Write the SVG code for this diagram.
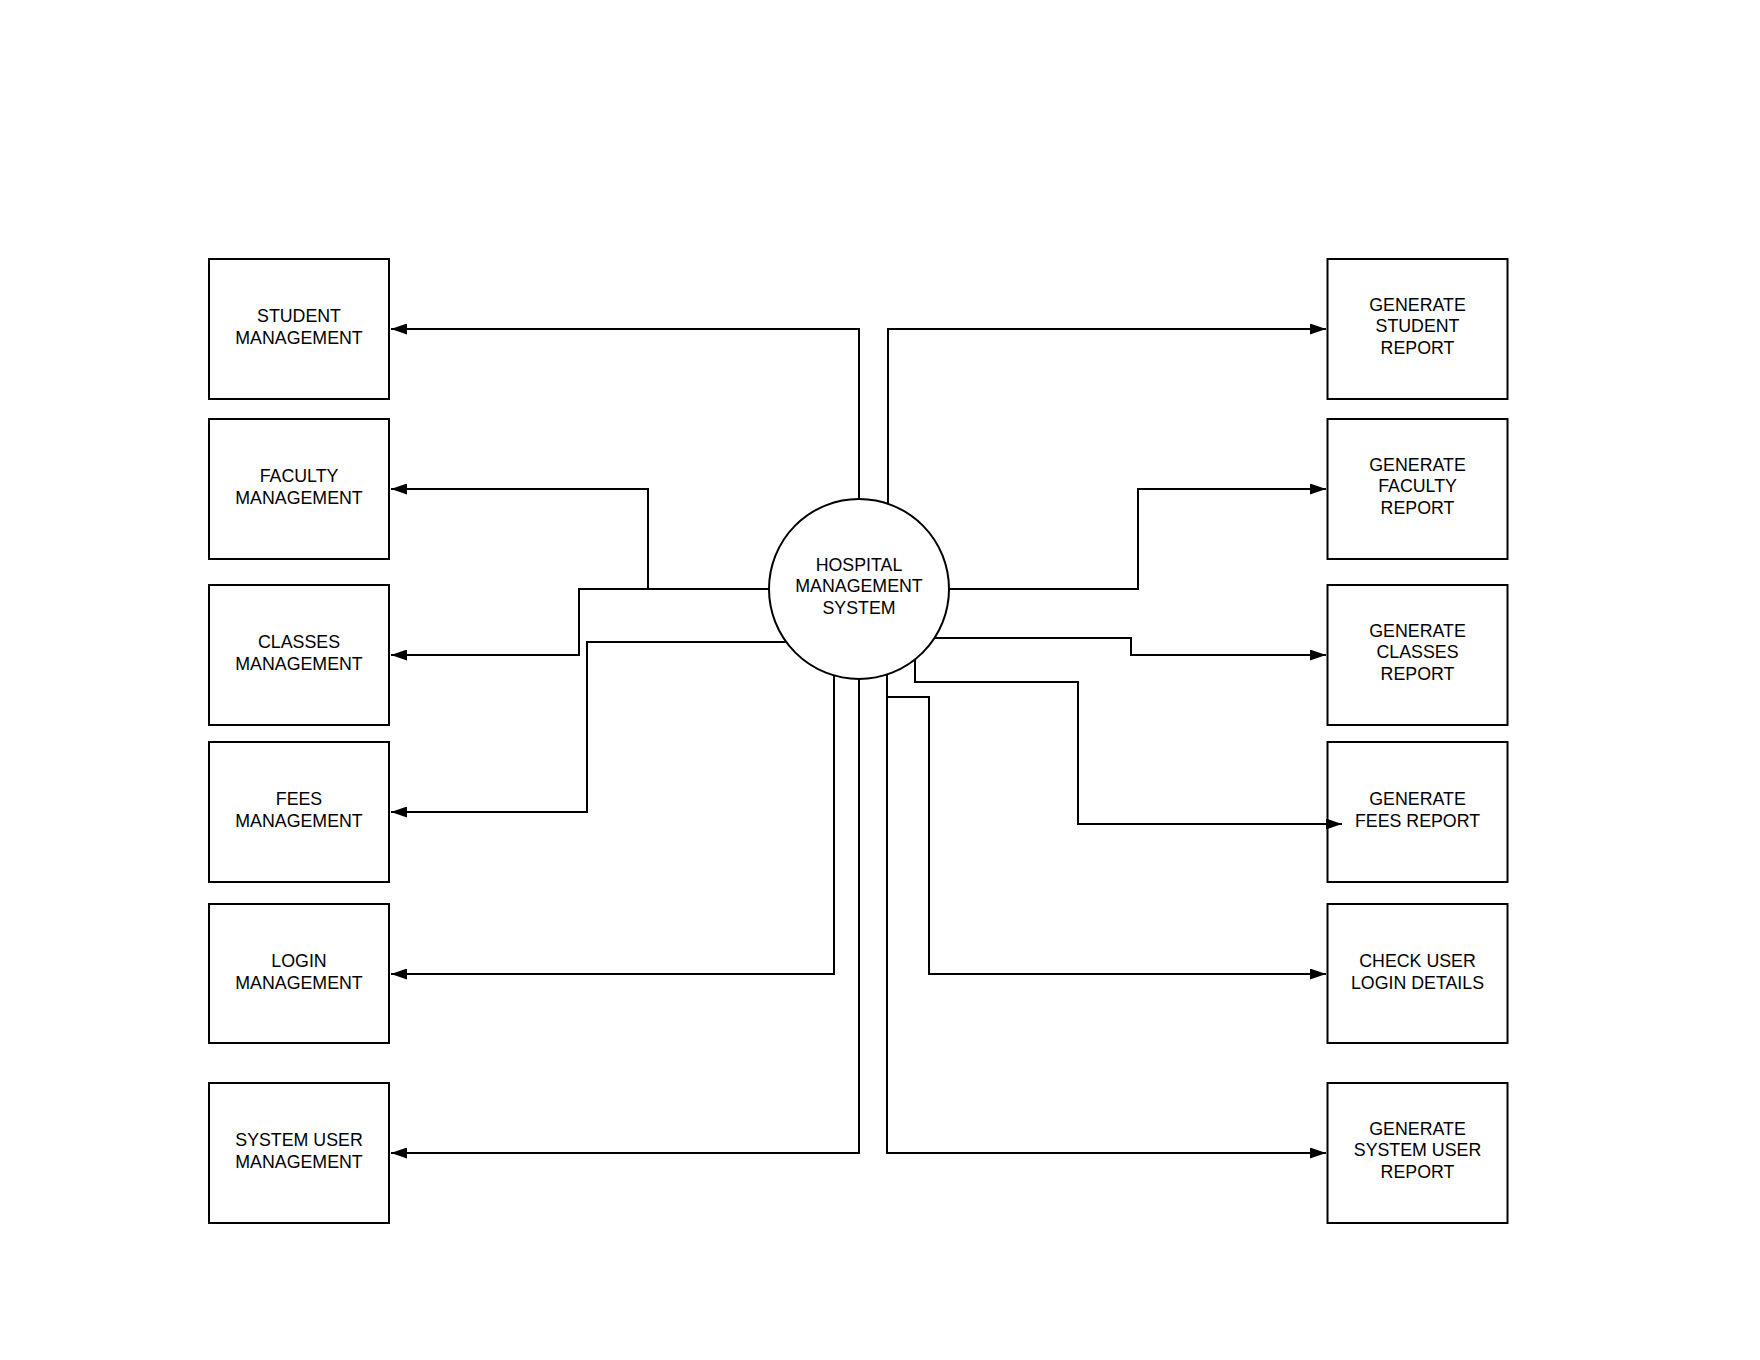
<svg xmlns="http://www.w3.org/2000/svg" width="1760" height="1360" viewBox="0 0 1760 1360">
<style>
.box{fill:#fff;stroke:#000;stroke-width:2}
.lbl{font-family:"Liberation Sans",Arial,sans-serif;font-size:17.8px;fill:#000;text-anchor:middle}
.conn{fill:none;stroke:#000;stroke-width:2;marker-end:url(#arr)}
</style>
<defs>
<marker id="arr" viewBox="0 0 16 11" refX="16" refY="5.5" markerWidth="16" markerHeight="11" markerUnits="userSpaceOnUse" orient="auto">
<path d="M0,0 L16,5.5 L0,11 z" fill="#000"/>
</marker>
</defs>
<rect width="1760" height="1360" fill="#fff"/>
<g id="nodes">
<g id="student-management"><rect class="box" x="209" y="259" width="180" height="140"/><text class="lbl" x="299" y="322">STUDENT</text><text class="lbl" x="299" y="343.5">MANAGEMENT</text></g>
<g id="faculty-management"><rect class="box" x="209" y="419" width="180" height="140"/><text class="lbl" x="299" y="482">FACULTY</text><text class="lbl" x="299" y="503.5">MANAGEMENT</text></g>
<g id="classes-management"><rect class="box" x="209" y="585" width="180" height="140"/><text class="lbl" x="299" y="648">CLASSES</text><text class="lbl" x="299" y="669.5">MANAGEMENT</text></g>
<g id="fees-management"><rect class="box" x="209" y="742" width="180" height="140"/><text class="lbl" x="299" y="805">FEES</text><text class="lbl" x="299" y="826.5">MANAGEMENT</text></g>
<g id="login-management"><rect class="box" x="209" y="904" width="180" height="139"/><text class="lbl" x="299" y="967">LOGIN</text><text class="lbl" x="299" y="988.5">MANAGEMENT</text></g>
<g id="system-user-management"><rect class="box" x="209" y="1083" width="180" height="140"/><text class="lbl" x="299" y="1146">SYSTEM USER</text><text class="lbl" x="299" y="1167.5">MANAGEMENT</text></g>

<g id="generate-student-report"><rect class="box" x="1327.5" y="259" width="180" height="140"/><text class="lbl" x="1417.5" y="310.7">GENERATE</text><text class="lbl" x="1417.5" y="332.3">STUDENT</text><text class="lbl" x="1417.5" y="354">REPORT</text></g>
<g id="generate-faculty-report"><rect class="box" x="1327.5" y="419" width="180" height="140"/><text class="lbl" x="1417.5" y="470.7">GENERATE</text><text class="lbl" x="1417.5" y="492.3">FACULTY</text><text class="lbl" x="1417.5" y="514">REPORT</text></g>
<g id="generate-classes-report"><rect class="box" x="1327.5" y="585" width="180" height="140"/><text class="lbl" x="1417.5" y="636.7">GENERATE</text><text class="lbl" x="1417.5" y="658.3">CLASSES</text><text class="lbl" x="1417.5" y="680">REPORT</text></g>
<g id="generate-fees-report"><rect class="box" x="1327.5" y="742" width="180" height="140"/><text class="lbl" x="1417.5" y="805">GENERATE</text><text class="lbl" x="1417.5" y="826.5">FEES REPORT</text></g>
<g id="check-user-login-details"><rect class="box" x="1327.5" y="904" width="180" height="139"/><text class="lbl" x="1417.5" y="967">CHECK USER</text><text class="lbl" x="1417.5" y="988.5">LOGIN DETAILS</text></g>
<g id="generate-system-user-report"><rect class="box" x="1327.5" y="1083" width="180" height="140"/><text class="lbl" x="1417.5" y="1134.7">GENERATE</text><text class="lbl" x="1417.5" y="1156.3">SYSTEM USER</text><text class="lbl" x="1417.5" y="1178">REPORT</text></g>

<g id="hospital-management-system"><circle cx="859" cy="589" r="90" fill="#fff" stroke="#000" stroke-width="2"/><text class="lbl" x="859" y="570.7">HOSPITAL</text><text class="lbl" x="859" y="592.3">MANAGEMENT</text><text class="lbl" x="859" y="613.7">SYSTEM</text></g>
</g>
<g id="connectors">
<path class="conn" d="M859,499 V329 H391"/>
<path class="conn" d="M769,589 H648 V489 H391"/>
<path class="conn" d="M769,589 H579 V655 H391"/>
<path class="conn" d="M786,642 H587 V812 H391"/>
<path class="conn" d="M834,675.5 V974 H391"/>
<path class="conn" d="M859,679 V1153 H391"/>
<path class="conn" d="M888,503.5 V329 H1326"/>
<path class="conn" d="M949,589 H1138 V489 H1326"/>
<path class="conn" d="M935,638 H1131 V655 H1326"/>
<path class="conn" d="M915,660 V682 H1078 V824 H1342"/>
<path class="conn" d="M887,697 H929 V974 H1326"/>
<path class="conn" d="M887,674.5 V1153 H1326"/>
</g>
</svg>
